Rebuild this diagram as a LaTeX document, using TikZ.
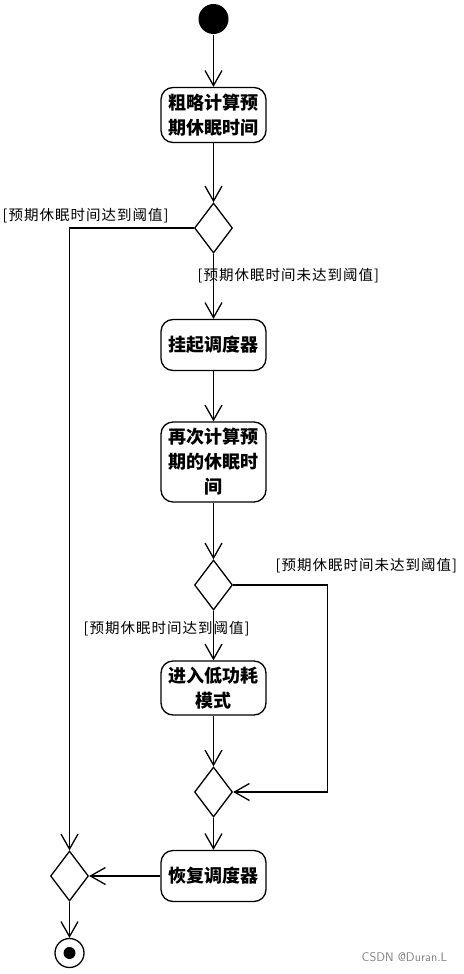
\documentclass[tikz,border=0pt]{standalone}
\usepackage{fontspec}
\newfontfamily\cjk{Noto Sans CJK SC}
\newfontfamily\cjkwide[LetterSpace=7]{Noto Sans CJK SC}
\usetikzlibrary{arrows.meta,shapes.geometric}

\begin{document}
\begin{tikzpicture}[x=1pt,y=-1pt,
	line width=1.3pt,
	act/.style={draw,rounded corners=12pt,minimum width=105pt,inner sep=0pt,align=center,font=\cjk\bfseries\fontsize{18}{25}\selectfont},
	choice/.style={draw,diamond,minimum width=38pt,minimum height=50pt,inner sep=0pt},
	guard/.style={font=\cjkwide\fontsize{14.5}{16}\selectfont,inner sep=0pt},
	flow/.style={-{Straight Barb[length=15pt,width=17pt]}}]
					
					\useasboundingbox (0,0) rectangle (463,974);
					\node [circle,fill,minimum size=30pt,inner sep=0pt] (start) at (213.5,19) {};
					\node [act,minimum height=55pt] (rough) at (213.5,115) {粗略计算预\\期休眠时间};
					\node [choice] (d1) at (213.5,228) {};
					\node [act,minimum height=51pt] (hang) at (213.5,345) {挂起调度器};
					\node [act,minimum height=80pt] (again) at (213.5,462) {再次计算预\\期的休眠时\\间};
					\node [choice] (d2) at (213.5,585) {};
					\node [act,minimum height=54pt] (low) at (213.5,688) {进入低功耗\\模式};
					\node [choice] (m1) at (213.5,792) {};
					\node [act,minimum height=51pt] (resume) at (213.5,876) {恢复调度器};
					\node [choice] (m2) at (69.5,876) {};
					\node [circle,draw,minimum size=29pt,inner sep=0pt] (stop) at (69.5,953) {};
					\node [circle,fill,minimum size=12pt,inner sep=0pt] at (stop) {};
					\coordinate (turnL) at (69.5,228);
					\coordinate (turnR) at (327.5,585);
					
					\draw [flow] (start) -- (rough);
					\draw [flow] (rough) -- (d1);
					\draw [flow] (d1) -- (hang);
					\draw [flow] (d1.west) -- (turnL) -- (m2);
					\draw [flow] (hang) -- (again);
					\draw [flow] (again) -- (d2);
					\draw [flow] (d2) -- (low);
					\draw [flow] (d2.east) -- (turnR) |- (m1.east);
					\draw [flow] (low) -- (m1);
					\draw [flow] (m1) -- (resume);
					\draw [flow] (resume) -- (m2);
					\draw [flow] (m2) -- (stop);
					
					\node [guard,anchor=west] at (2,216) {[预期休眠时间达到阈值]};
					\node [guard,anchor=west] at (197,276) {[预期休眠时间未达到阈值]};
					\node [guard,anchor=west] at (275,566) {[预期休眠时间未达到阈值]};
					\node [guard,anchor=west] at (83,629) {[预期休眠时间达到阈值]};
					\node [anchor=east,text=gray,font=\sffamily\fontsize{12.5}{14}\selectfont,inner sep=0pt] at (448,957) {CSDN @Duran.L};
\end{tikzpicture}
\end{document}
